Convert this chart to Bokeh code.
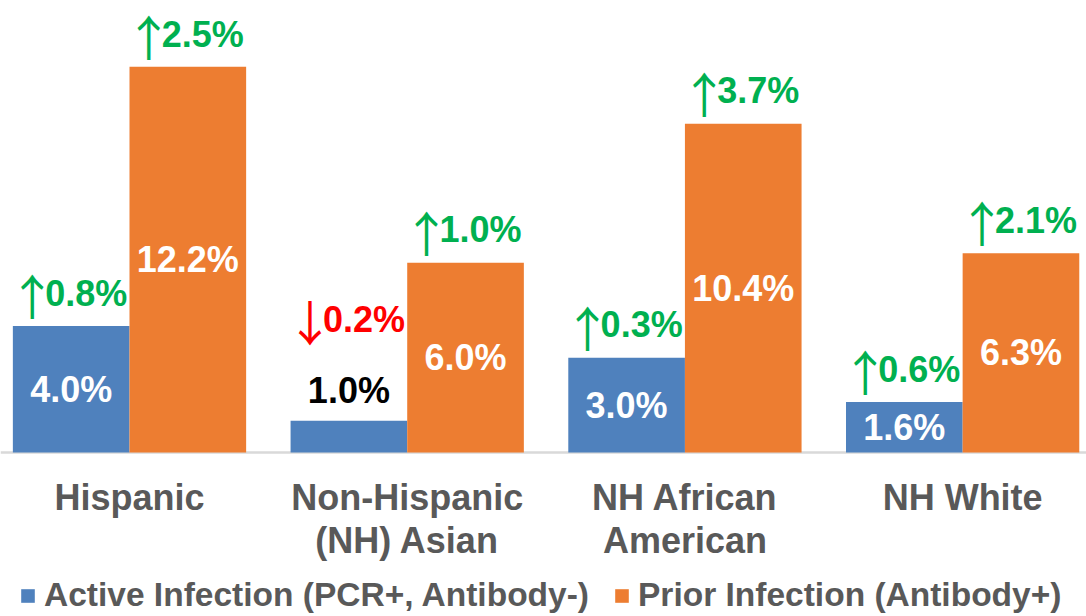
from bokeh.plotting import figure
from bokeh.models import ColumnDataSource, Legend, LegendItem, Range1d, Span
from bokeh.embed import file_html
from bokeh.resources import INLINE
from bokeh.core.properties import value

# ---- data ----
categories = ["Hispanic", "Non-Hispanic\n(NH) Asian", "NH African\nAmerican", "NH White"]
active = [4.0, 1.0, 3.0, 1.6]
prior = [12.2, 6.0, 10.4, 6.3]
active_change = [0.8, -0.2, 0.3, 0.6]
prior_change = [2.5, 1.0, 3.7, 2.1]
series_names = ["Active Infection (PCR+, Antibody-)", "Prior Infection (Antibody+)"]

BLUE = "#4F81BD"
ORANGE = "#ED7D31"
GREEN = "#00B050"
RED = "#FF0000"
GREY = "#595959"
FONT = "Liberation Sans"
ARROW_FONT = "Noto Sans CJK JP"

BAR_W = 0.42
OFFS = [-0.21, 0.21]

p = figure(frame_width=1086, frame_height=616,
           x_range=Range1d(-0.4645, 3.446), y_range=Range1d(-5.19, 14.30),
           output_backend="svg", toolbar_location=None,
           x_axis_location=None, y_axis_location=None,
           min_border_left=0, min_border_right=0, min_border_top=0, min_border_bottom=0)
p.outline_line_color = None
p.grid.visible = False
p.background_fill_color = "white"
p.border_fill_color = "white"

# category baseline
p.add_layout(Span(location=0, dimension="width", line_color="#D9D9D9",
                  line_width=2.5, level="underlay"))

renderers = []
for s, (vals, changes, color) in enumerate([(active, active_change, BLUE),
                                            (prior, prior_change, ORANGE)]):
    xs = [i + OFFS[s] for i in range(len(categories))]
    src = ColumnDataSource(dict(x=xs, top=vals))
    r = p.vbar(x="x", top="top", width=BAR_W, bottom=0, source=src,
               fill_color=color, line_color=None)
    renderers.append(r)

    in_x, in_y, in_t = [], [], []
    out_x, out_y, out_t = [], [], []
    ch_x, ch_y, ch_t, ch_a, ch_c = [], [], [], [], []
    for x, v, c in zip(xs, vals, changes):
        label = f"{v:.1f}%"
        if v >= 1.2:
            in_x.append(x); in_y.append(v / 2); in_t.append(label)
            ch_y.append(v + 1.04)
        else:
            out_x.append(x); out_y.append(v + 0.95); out_t.append(label)
            ch_y.append(v + 3.22)
        ch_x.append(x)
        ch_t.append(f"{abs(c):.1f}%")
        ch_a.append("\u2191" if c >= 0 else "\u2193")
        ch_c.append(GREEN if c >= 0 else RED)

    p.text(x=in_x, y=in_y, text=in_t, text_color="white", text_align="center",
           text_baseline="middle", text_font=value(FONT), text_font_style="bold",
           text_font_size="36px")
    if out_x:
        p.text(x=out_x, y=out_y, text=out_t, text_color="black", text_align="center",
               text_baseline="middle", text_font=value(FONT), text_font_style="bold",
               text_font_size="36px")
    csrc = ColumnDataSource(dict(x=ch_x, y=ch_y, text=ch_t, arrow=ch_a, color=ch_c))
    p.text(x="x", y="y", text="text", text_color="color", source=csrc,
           text_align="left", text_baseline="middle", x_offset=-26,
           text_font=value(FONT), text_font_style="bold", text_font_size="36px")
    p.text(x="x", y="y", text="arrow", text_color="color", source=csrc,
           text_align="center", text_baseline="middle", x_offset=-39, y_offset=1,
           text_font=value(ARROW_FONT), text_font_style="normal", text_font_size="48px")

# category labels (below the baseline)
line1 = [c.split("\n")[0] for c in categories]
line2 = [c.split("\n")[1] if "\n" in c else "" for c in categories]
cx = list(range(len(categories)))
p.text(x=cx, y=[-1.41] * len(cx), text=line1, text_color=GREY, text_align="center",
       text_baseline="middle", text_font=value(FONT), text_font_style="bold",
       text_font_size="36px")
p.text(x=cx, y=[-2.78] * len(cx), text=line2, text_color=GREY, text_align="center",
       text_baseline="middle", text_font=value(FONT), text_font_style="bold",
       text_font_size="36px")

legend = Legend(items=[LegendItem(label=series_names[0], renderers=[renderers[0]]),
                       LegendItem(label=series_names[1], renderers=[renderers[1]])],
                orientation="horizontal", location=(19, 2),
                label_text_font=FONT, label_text_font_style="bold",
                label_text_font_size="33.5px", label_text_color=GREY,
                label_standoff=8, spacing=24, padding=0, margin=0,
                glyph_width=17, glyph_height=17,
                border_line_color=None, background_fill_alpha=0)
p.add_layout(legend)

open("out.html", "w").write(file_html(p, INLINE))
